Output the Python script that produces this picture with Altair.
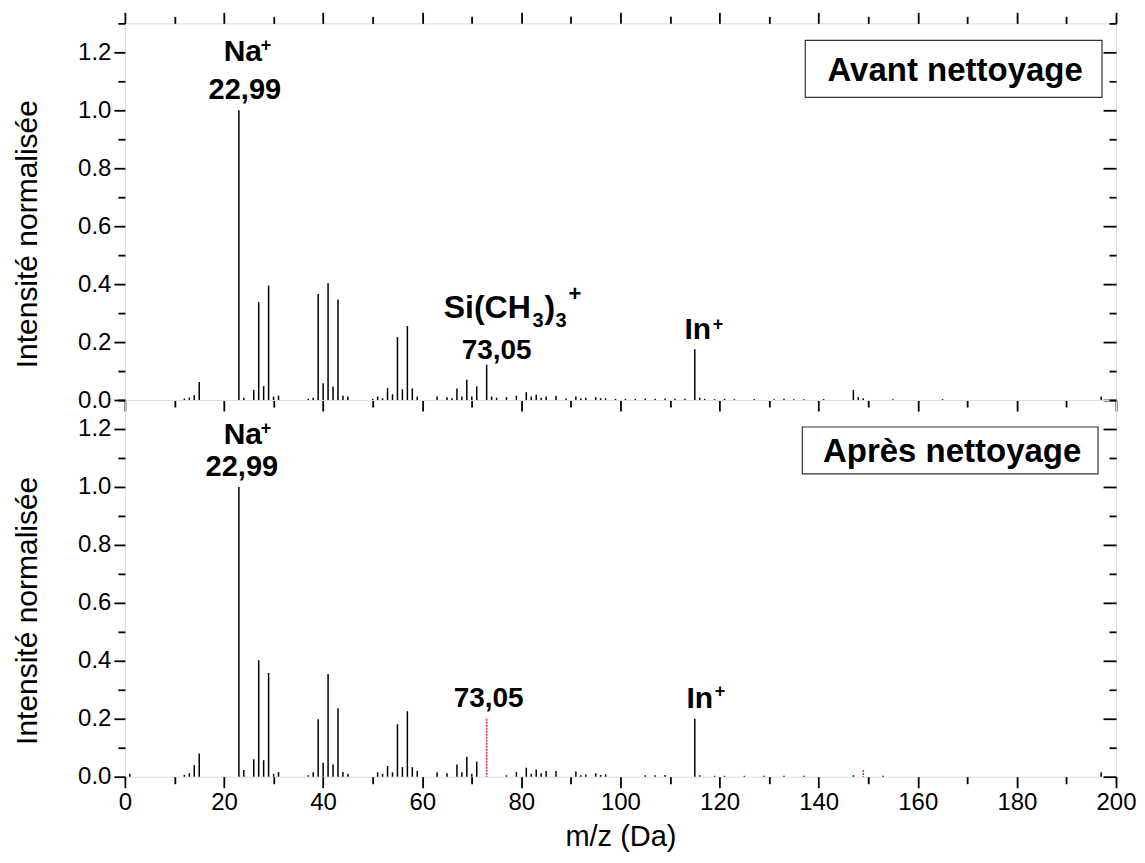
import altair as alt
import pandas as pd

# ---------------- data ----------------
mz_before = [12, 13, 14, 15, 23, 24, 26, 27, 28, 29, 30, 31, 37, 38, 39, 40, 41, 42, 43, 44, 45,
             50, 51, 52, 53, 54, 55, 56, 57, 58, 59, 63, 65, 66, 67, 68, 69, 70, 71, 73, 74, 75,
             77, 79, 81, 82, 83, 84, 85, 87, 89, 91, 92, 93, 95, 96, 97, 99, 101, 103, 105, 107,
             109, 111, 113, 115, 116, 117, 119, 121, 123, 127, 131, 133, 135, 137, 141, 147, 148,
             149, 155, 165, 197]
int_before = [0.005, 0.008, 0.017, 0.062, 1.0, 0.008, 0.035, 0.338, 0.048, 0.395, 0.012, 0.015,
              0.004, 0.008, 0.366, 0.058, 0.403, 0.047, 0.347, 0.015, 0.012,
              0.004, 0.012, 0.006, 0.041, 0.02, 0.217, 0.037, 0.255, 0.04, 0.012, 0.012, 0.01,
              0.006, 0.04, 0.012, 0.07, 0.012, 0.047, 0.122, 0.012, 0.008,
              0.01, 0.015, 0.027, 0.012, 0.018, 0.008, 0.012, 0.015, 0.005, 0.012, 0.006, 0.008,
              0.01, 0.006, 0.006, 0.004, 0.004, 0.004, 0.005, 0.004,
              0.005, 0.004, 0.004, 0.175, 0.008, 0.004, 0.003, 0.004, 0.003, 0.003, 0.003, 0.004,
              0.003, 0.003, 0.003, 0.035, 0.01,
              0.006, 0.003, 0.003, 0.012]

mz_after = [1, 12, 13, 14, 15, 23, 24, 26, 27, 28, 29, 30, 31, 37, 38, 39, 40, 41, 42, 43, 44, 45,
            51, 52, 53, 54, 55, 56, 57, 58, 59, 63, 65, 67, 68, 69, 70, 71, 77, 79, 81, 82, 83,
            84, 85, 87, 91, 92, 93, 95, 96, 97, 105, 107, 109, 115, 116, 119, 121, 125, 129, 133,
            137, 147, 153, 197]
int_after = [0.01, 0.006, 0.012, 0.04, 0.08, 1.0, 0.023, 0.06, 0.402, 0.057, 0.358, 0.01, 0.016,
             0.005, 0.015, 0.198, 0.048, 0.354, 0.042, 0.236, 0.016, 0.01,
             0.015, 0.01, 0.037, 0.015, 0.181, 0.033, 0.226, 0.033, 0.02, 0.015, 0.012, 0.042,
             0.015, 0.069, 0.01, 0.052, 0.005, 0.016, 0.031, 0.01, 0.025,
             0.012, 0.02, 0.02, 0.018, 0.005, 0.008, 0.012, 0.006, 0.008, 0.005, 0.005, 0.006,
             0.2, 0.005, 0.003, 0.003, 0.003, 0.003, 0.003,
             0.003, 0.005, 0.003, 0.015]

# peaks highlighted in red (after cleaning)
mz_after_red = [73, 149]
int_after_red = [0.2, 0.023]

x_major = list(range(0, 201, 20))
x_minor = list(range(10, 200, 20))
y_major = [0.0, 0.2, 0.4, 0.6, 0.8, 1.0, 1.2]
y_minor = [0.1, 0.3, 0.5, 0.7, 0.9, 1.1, 1.3]

# ---------------- styling ----------------
W, H = 992, 377
FONT = "Liberation Sans"
XS = alt.Scale(domain=[0, 200], nice=False, zero=False)
YS = alt.Scale(domain=[0, 1.3], nice=False, zero=False)
TICK_W = 1.8


def ax(orient, values, size, labels=False, title=None, offset=0, **kw):
    d = dict(orient=orient, values=values, tickSize=size, tickWidth=TICK_W, tickColor="black",
             labels=labels, domain=False, grid=False, offset=offset, labelFlush=False,
             labelOverlap=False, labelFont=FONT, labelFontSize=24, labelColor="black")
    if title:
        d.update(title=title, titleFont=FONT, titleFontWeight="normal", titleColor="black")
    else:
        d.update(title="")
    d.update(kw)
    return alt.Axis(**d)


def peaks_df(mz, inten):
    return pd.DataFrame({"mz": mz, "intensity": inten})


def ann(df, mz, text, dx, dy, size, align="center"):
    row = df[df["mz"] == mz].iloc[0]
    d = pd.DataFrame({"mz": [row["mz"]], "intensity": [row["intensity"]], "label": [text]})
    return alt.Chart(d).mark_text(
        font=FONT, fontWeight="bold", fontSize=size, align=align, baseline="alphabetic",
        dx=dx, dy=dy, color="black",
    ).encode(
        x=alt.X("mz:Q", scale=XS, axis=None),
        y=alt.Y("intensity:Q", scale=YS, axis=None),
        text="label:N",
    )


def panel(df, bottom_labels, top_ticks, extra_layers, box, box_text, text_pos):
    if bottom_labels:
        x_main = ax("bottom", x_major, 11, labels=True, title="m/z (Da)", labelPadding=3,
                    titleFontSize=29, titlePadding=8)
    else:
        x_main = ax("bottom", x_major, 11)
    main = alt.Chart(df).mark_rule(color="black", strokeWidth=1.5).encode(
        x=alt.X("mz:Q", scale=XS, axis=x_main),
        y=alt.Y("intensity:Q", scale=YS,
                axis=ax("left", y_major, 11, labels=True, title="Intensité normalisée",
                        format=".1f", labelPadding=3, titleFontSize=30, titlePadding=35,
                        titleY=H / 2 + 22)),
        y2=alt.datum(0),
    )
    minor = alt.Chart(df).mark_point(opacity=0).encode(
        x=alt.X("mz:Q", scale=XS, axis=ax("bottom", x_minor, 7)),
        y=alt.Y("intensity:Q", scale=YS, axis=ax("left", y_minor, 7)),
    )
    right_major = alt.Chart(df).mark_point(opacity=0).encode(
        x=alt.X("mz:Q", scale=XS, axis=ax("top", x_major, 11) if top_ticks else None),
        y=alt.Y("intensity:Q", scale=YS, axis=ax("right", y_major, 13, offset=-13)),
    )
    right_minor = alt.Chart(df).mark_point(opacity=0).encode(
        x=alt.X("mz:Q", scale=XS, axis=ax("top", x_minor, 7) if top_ticks else None),
        y=alt.Y("intensity:Q", scale=YS, axis=ax("right", y_minor, 7, offset=-7)),
    )
    rect = alt.Chart(pd.DataFrame({"k": [0]})).mark_rect(
        fill="white", stroke="#333333", strokeWidth=1.2
    ).encode(
        x=alt.value(box[0]), x2=alt.value(box[1]), y=alt.value(box[2]), y2=alt.value(box[3])
    )
    btxt = alt.Chart(pd.DataFrame({"t": [box_text]})).mark_text(
        font=FONT, fontWeight="bold", fontSize=33, align="center", baseline="alphabetic",
        color="black",
    ).encode(x=alt.value(text_pos[0]), y=alt.value(text_pos[1]), text="t:N")
    layers = [main, minor, right_major, right_minor] + extra_layers + [rect, btxt]
    return alt.layer(*layers).resolve_axis(x="independent", y="independent").properties(
        width=W, height=H
    )


df_b = peaks_df(mz_before, int_before)
df_a = peaks_df(mz_after, int_after)
df_r = peaks_df(mz_after_red, int_after_red)

top_ann = [
    ann(df_b, 23, "Na", 4, -49, 30),
    ann(df_b, 23, "+", 22, -59, 18, "left"),
    ann(df_b, 23, "22,99", 6, -11, 29),
    ann(df_b, 73, "Si(CH", -43, -47, 32, "left"),
    ann(df_b, 73, "3", 46, -38, 20, "left"),
    ann(df_b, 73, ")", 58, -47, 32, "left"),
    ann(df_b, 73, "3", 69, -38, 20, "left"),
    ann(df_b, 73, "+", 82, -64, 22, "left"),
    ann(df_b, 73, "73,05", 10, -6, 28),
    ann(df_b, 115, "In", 3, -10, 30),
    ann(df_b, 115, "+", 18, -19, 18, "left"),
]

red = alt.Chart(df_r).mark_rule(color="#e8322f", strokeWidth=1.6, strokeDash=[2, 1]).encode(
    x=alt.X("mz:Q", scale=XS, axis=None),
    y=alt.Y("intensity:Q", scale=YS, axis=None),
    y2=alt.datum(0),
)

bot_ann = [
    red,
    ann(df_a, 23, "Na", 4, -43, 30),
    ann(df_a, 23, "+", 22, -53, 18, "left"),
    ann(df_a, 23, "22,99", 3, -11, 29),
    ann(df_r, 73, "73,05", 2, -12, 28),
    ann(df_a, 115, "In", 5, -11, 30),
    ann(df_a, 115, "+", 20, -22, 18, "left"),
]

top = panel(df_b, False, True, top_ann, (681, 978, 17, 74), "Avant nettoyage", (831, 58))
bottom = panel(df_a, True, False, bot_ann, (678, 974, 27, 74), "Après nettoyage", (828, 62))

chart = alt.vconcat(top, bottom, spacing=0, bounds="flush").properties(
    padding={"left": 4, "top": 2, "right": 0, "bottom": 0}
).configure_view(stroke="black", strokeWidth=2).configure(background="white")

chart.save("out.html", embed_options={"renderer": "svg", "actions": False})
